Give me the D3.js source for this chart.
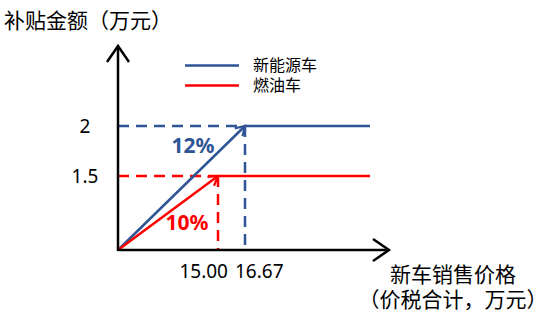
<!DOCTYPE html>
<html>
<head>
<meta charset="utf-8">
<script src="https://cdn.jsdelivr.net/npm/d3@7"></script>
<style>
  html, body { margin: 0; padding: 0; background: #fff; }
  svg { display: block; }
  text { font-family: "Noto Sans", "Noto Sans CJK SC", sans-serif; }
</style>
</head>
<body>
<script>
// Subsidy schedules: subsidy = rate × price, capped at a maximum amount
const seriesNames = ["新能源车", "燃油车"];
const seriesColors = ["#2f5597", "#ff0000"];
const rates = [0.12, 0.10];          // subsidy rate
const caps = [2, 1.5];               // maximum subsidy (万元)
const breakPrices = [16.67, 15.00];  // price where the cap is reached
const endPrice = 20;                 // where the flat segments stop
const xTickValues = [15.00, 16.67];
const yTickValues = [1.5, 2];

const yTitle = "补贴金额（万元）";
const xTitle = ["新车销售价格", "（价税合计，万元）"];

const W = 550, H = 318;
const svg = d3.select("body").append("svg").attr("width", W).attr("height", H);

// Schematic (piecewise) scales so the break points sit where they read clearly
const x = d3.scaleLinear().domain([0, 15, 16.67, endPrice]).range([118, 218, 245, 370]);
const y = d3.scaleLinear().domain([0, 1.5, 2]).range([250, 176, 126]);

const defs = svg.append("defs");
defs.append("marker").attr("id", "axisArrow")
  .attr("markerUnits", "userSpaceOnUse").attr("viewBox", "-20 -14 24 28")
  .attr("markerWidth", 24).attr("markerHeight", 28).attr("refX", 0).attr("refY", 0)
  .attr("orient", "auto")
  .append("path").attr("d", "M-16,-11L0,0L-16,11")
  .attr("fill", "none").attr("stroke", "#000").attr("stroke-width", 2.5);

seriesColors.forEach((c, i) => {
  defs.append("marker").attr("id", "lineArrow" + i)
    .attr("markerUnits", "userSpaceOnUse").attr("viewBox", "-12 -8 16 16")
    .attr("markerWidth", 16).attr("markerHeight", 16).attr("refX", 0).attr("refY", 0)
    .attr("orient", "auto")
    .append("path").attr("d", "M-9,-5.5L0,0L-9,5.5")
    .attr("fill", "none").attr("stroke", c).attr("stroke-width", 2.2);
});

// Guide lines from each break point to the axes
breakPrices.forEach((p, i) => {
  const g = svg.append("g").attr("stroke", seriesColors[i]).attr("stroke-width", 2.5)
    .attr("stroke-dasharray", "11,7").attr("fill", "none");
  g.append("line").attr("x1", x(0)).attr("x2", x(p)).attr("y1", y(caps[i])).attr("y2", y(caps[i]));
  g.append("line").attr("x1", x(p)).attr("x2", x(p)).attr("y1", y(caps[i])).attr("y2", y(0));
});

// Subsidy lines: rising segment (ends in an arrow) and flat capped segment
breakPrices.forEach((p, i) => {
  svg.append("line")
    .attr("x1", x(0)).attr("y1", y(0)).attr("x2", x(p)).attr("y2", y(caps[i]))
    .attr("stroke", seriesColors[i]).attr("stroke-width", 2.5)
    .attr("marker-end", `url(#lineArrow${i})`);
  svg.append("line")
    .attr("x1", x(p)).attr("y1", y(caps[i])).attr("x2", x(endPrice)).attr("y2", y(caps[i]))
    .attr("stroke", seriesColors[i]).attr("stroke-width", 2.5);
});

// Axes with open arrowheads
svg.append("line").attr("x1", x(0)).attr("y1", y(0)).attr("x2", 389).attr("y2", y(0))
  .attr("stroke", "#000").attr("stroke-width", 2.5).attr("marker-end", "url(#axisArrow)");
svg.append("line").attr("x1", x(0)).attr("y1", y(0) + 1).attr("x2", x(0)).attr("y2", 46)
  .attr("stroke", "#000").attr("stroke-width", 2.5).attr("marker-end", "url(#axisArrow)");

// Tick labels
svg.append("g").selectAll("text").data(yTickValues).join("text")
  .attr("x", 85).attr("y", d => y(d) + 7)
  .attr("text-anchor", "middle").attr("font-size", 19).attr("fill", "#000")
  .text(d => d3.format("~g")(d));

svg.append("g").selectAll("text").data(xTickValues).join("text")
  .attr("x", (d, i) => i === 0 ? x(d) + 10 : x(d) - 10)
  .attr("y", 278)
  .attr("text-anchor", (d, i) => i === 0 ? "end" : "start")
  .attr("font-size", 19).attr("fill", "#000")
  .text(d => d3.format(".2f")(d));

// Rate labels
const rateLabelPos = [[193, 153], [187, 230]];
rates.forEach((r, i) => {
  svg.append("text").attr("x", rateLabelPos[i][0]).attr("y", rateLabelPos[i][1])
    .attr("text-anchor", "middle").attr("font-size", 21).attr("font-weight", "bold")
    .attr("fill", seriesColors[i]).text(d3.format(".0%")(r));
});

// Axis titles
svg.append("text").attr("x", 4).attr("y", 28).attr("font-size", 21).attr("fill", "#000").text(yTitle);
svg.append("text").attr("x", 453).attr("y", 281.5).attr("text-anchor", "middle")
  .attr("font-size", 21).attr("fill", "#000").text(xTitle[0]);
svg.append("text").attr("x", 453).attr("y", 307).attr("text-anchor", "middle")
  .attr("font-size", 21).attr("fill", "#000").text(xTitle[1]);

// Legend
const legend = svg.append("g").selectAll("g").data(seriesNames).join("g")
  .attr("transform", (d, i) => `translate(185,${65.5 + i * 20})`);
legend.append("line").attr("x1", 0).attr("x2", 54).attr("y1", 0).attr("y2", 0)
  .attr("stroke", (d, i) => seriesColors[i]).attr("stroke-width", 2.5);
legend.append("text").attr("x", 68).attr("y", 5.5).attr("font-size", 16).attr("fill", "#000")
  .text(d => d);
</script>
</body>
</html>
